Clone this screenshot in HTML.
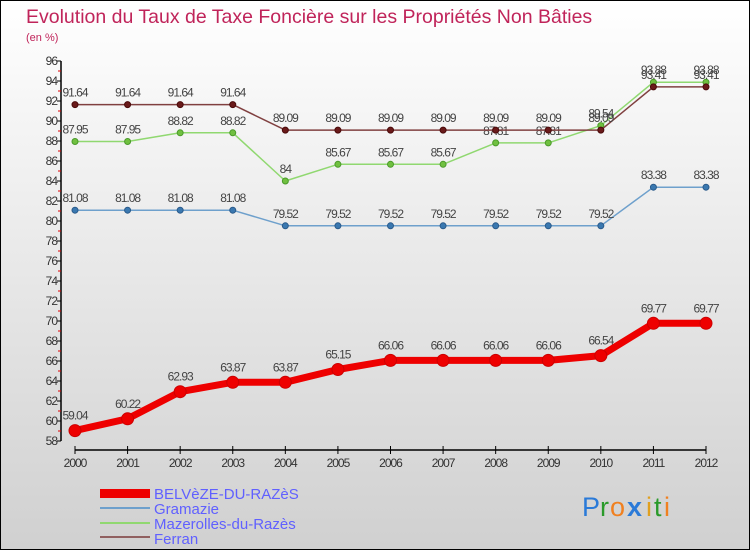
<!DOCTYPE html>
<html><head><meta charset="utf-8"><style>
body{margin:0;width:750px;height:550px;overflow:hidden;font-family:"Liberation Sans",sans-serif}
svg{display:block}
</style></head><body>
<svg width="750" height="550" viewBox="0 0 750 550">
<defs><linearGradient id="bg" x1="0" y1="0" x2="0" y2="1"><stop offset="0" stop-color="#ffffff"/><stop offset="1" stop-color="#d0d0d0"/></linearGradient></defs>
<rect x="0.5" y="0.5" width="749" height="549" fill="url(#bg)" stroke="#000"/>
<text x="26" y="23" font-size="19.5" fill="#c0245a">Evolution du Taux de Taxe Foncière sur les Propriétés Non Bâties</text>
<text x="26" y="41" font-size="11" fill="#c0245a">(en %)</text>
<g id="axes"></g>
<g id="series"></g>
<g>
<rect x="100" y="489" width="50" height="9" fill="#ee0000"/>
<text x="154" y="499" font-size="15" fill="#6060ff">BELVèZE-DU-RAZèS</text>
<rect x="100" y="507" width="50" height="2" fill="#6ea0cc"/>
<text x="154" y="514" font-size="15" fill="#6060ff">Gramazie</text>
<rect x="100" y="522" width="50" height="2" fill="#90d870"/>
<text x="154" y="529" font-size="15" fill="#6060ff">Mazerolles-du-Razès</text>
<rect x="100" y="536" width="50" height="2" fill="#906060"/>
<text x="154" y="544" font-size="15" fill="#6060ff">Ferran</text>
</g>
<g font-size="27">
<text x="582" y="516" fill="#2a7ad8">P</text><text x="600" y="516" fill="#2a9a2a">r</text><text x="610" y="516" fill="#f08020">o</text><text x="627" y="516" fill="#2a7ad8" font-weight="bold">x</text><text x="646" y="516" fill="#e0a020">i</text><text x="654" y="516" fill="#2a9a2a">t</text><text x="664" y="516" fill="#f08020">i</text>
</g>
</svg>
<script>
const years=["2000","2001","2002","2003","2004","2005","2006","2007","2008","2009","2010","2011","2012"];
const yTicks=[58,60,62,64,66,68,70,72,74,76,78,80,82,84,86,88,90,92,94,96];
const belveze=[59.04,60.22,62.93,63.87,63.87,65.15,66.06,66.06,66.06,66.06,66.54,69.77,69.77];
const gramazie=[81.08,81.08,81.08,81.08,79.52,79.52,79.52,79.52,79.52,79.52,79.52,83.38,83.38];
const mazerolles=[87.95,87.95,88.82,88.82,84,85.67,85.67,85.67,87.81,87.81,89.54,93.88,93.88];
const ferran=[91.64,91.64,91.64,91.64,89.09,89.09,89.09,89.09,89.09,89.09,89.09,93.41,93.41];
const NS="http://www.w3.org/2000/svg";
const X0=75,X1=706,Y58=441,PXU=10;
function xs(i){return X0+(X1-X0)*i/(years.length-1);}
function ys(v){return Y58-(v-58)*PXU;}
function mk(tag,attrs,parent){const e=document.createElementNS(NS,tag);for(const k in attrs)e.setAttribute(k,attrs[k]);parent.appendChild(e);return e;}
const ax=document.getElementById('axes');
const yaxis=mk('line',{x1:61,y1:ys(96),x2:61,y2:ys(58),stroke:'#000','stroke-width':1.5},ax);


yTicks.forEach(v=>{
  mk('line',{x1:57,x2:61,y1:ys(v),y2:ys(v),stroke:'#000'},ax);
  if(v<96) mk('line',{x1:58,x2:61,y1:ys(v+1),y2:ys(v+1),stroke:'#e00000'},ax);
  const t=mk('text',{x:57,y:ys(v)+4,'font-size':12,'text-anchor':'end',fill:'#333','letter-spacing':'-1'},ax);
  t.textContent=v;
  
  
});
const xaxis=mk('line',{x1:X0,y1:450,x2:X1,y2:450,stroke:'#000','stroke-width':1.5},ax);


years.forEach((y,i)=>{
  mk('line',{x1:xs(i),x2:xs(i),y1:446,y2:454,stroke:'#000'},ax);
  const t=mk('text',{x:xs(i),y:467,'font-size':12,'text-anchor':'middle',fill:'#333','letter-spacing':'-1'},ax);
  t.textContent=y;
  
  
});
const sg=document.getElementById('series');
function series(vals,name,color,lw,r,dot,stroke){
  const g=mk('g',{},sg);
  
  
  mk('polyline',{points:vals.map((v,i)=>xs(i)+','+ys(v)).join(' '),fill:'none',stroke:color,'stroke-width':lw,'stroke-linejoin':'round'},g);
  vals.forEach((v,i)=>{
    const c=mk('circle',{cx:xs(i),cy:ys(v),r:r,fill:dot,stroke:stroke,'stroke-width':1},g);
    
    
    const t=mk('text',{x:xs(i),y:ys(v)-(r+5),'font-size':12,'text-anchor':'middle',fill:'#444','letter-spacing':'-1'},g);
    t.textContent=v;
    
    
  });
}
series(gramazie,'gramazie','#6ea0cc',1.5,3,'#3a78b0','#2a5a8a');
series(mazerolles,'mazerolles','#90d870',1.5,3,'#70c040','#4a9a2a');
series(ferran,'ferran','#804040',1.5,3,'#6a1a1a','#4a0a0a');
series(belveze,'belveze','#ee0000',7,6,'#ee0000','#cc0000');
</script>
</body></html>
